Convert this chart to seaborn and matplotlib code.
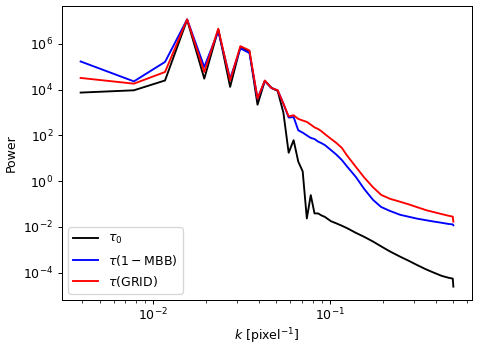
import numpy as np
import pandas as pd
import matplotlib
matplotlib.use("Agg")
import matplotlib.pyplot as plt
import seaborn as sns

# wavenumber index (k = n / 256 pixel^-1)
n_idx = [1, 2, 3, 4, 5, 6, 7, 8, 9, 10, 11, 12, 13, 14, 15, 16, 17, 18, 19, 20,
         21, 22, 23, 24, 26, 28, 30, 32, 36, 40, 45, 50, 56, 64, 72, 80, 90,
         100, 110, 120, 127, 128]
npix = 256

# log10 of power
logp_tau0 = [3.87, 3.97, 4.40, 7.05, 4.48, 6.63, 4.12, 5.86, 5.68, 3.34, 4.38,
             4.07, 3.94, 3.00, 1.24, 1.79, 0.85, 0.43, -1.63, -0.61,
             -1.41, -1.41, -1.50, -1.56, -1.75, -1.85, -1.95, -2.05, -2.26,
             -2.43, -2.64, -2.85, -3.07, -3.30, -3.49, -3.67, -3.86,
             -4.01, -4.14, -4.22, -4.26, -4.61]
logp_mbb = [5.23, 4.36, 5.21, 7.07, 4.99, 6.55, 4.48, 5.80, 5.60, 3.61, 4.38,
            4.07, 3.97, 3.39, 2.78, 2.80, 2.22, 2.12, 2.00, 1.89,
            1.84, 1.73, 1.66, 1.58, 1.36, 1.15, 0.92, 0.65, 0.18,
            -0.33, -0.82, -1.13, -1.30, -1.47, -1.56, -1.64, -1.71,
            -1.77, -1.82, -1.87, -1.89, -1.93]
logp_grid = [4.51, 4.26, 4.77, 7.07, 4.77, 6.66, 4.40, 5.90, 5.71, 3.61, 4.40,
             4.07, 3.97, 3.39, 2.83, 2.88, 2.72, 2.65, 2.59, 2.47,
             2.35, 2.28, 2.18, 2.06, 1.85, 1.66, 1.45, 1.13, 0.62,
             0.17, -0.27, -0.60, -0.77, -0.90, -1.02, -1.14, -1.27,
             -1.36, -1.44, -1.51, -1.55, -1.77]

labels = [r"$\tau_0$", r"$\tau(1-\mathrm{MBB})$", r"$\tau(\mathrm{GRID})$"]
colors = ["black", "blue", "red"]

k = np.array(n_idx) / npix
frames = []
for lab, lp in zip(labels, [logp_tau0, logp_mbb, logp_grid]):
    frames.append(pd.DataFrame({"k": k, "power": 10 ** np.array(lp), "map": lab}))
df = pd.concat(frames, ignore_index=True)

fig = plt.figure(figsize=(480 / 90, 347 / 90), dpi=90)
ax = fig.add_axes([62 / 480, 1 - 300 / 347, 410 / 480, 294 / 347])
sns.lineplot(data=df, x="k", y="power", hue="map", palette=colors,
             hue_order=labels, errorbar=None, sort=False, linewidth=1.5, ax=ax)
ax.set_xscale("log")
ax.set_yscale("log")
ax.tick_params(axis="x", which="major", pad=2)
ax.set_xlabel(r"$k$ [pixel$^{-1}$]", labelpad=2)
ax.set_ylabel("Power")
ax.legend(loc="lower left", title=None)
fig.savefig("out.png", dpi=90)
